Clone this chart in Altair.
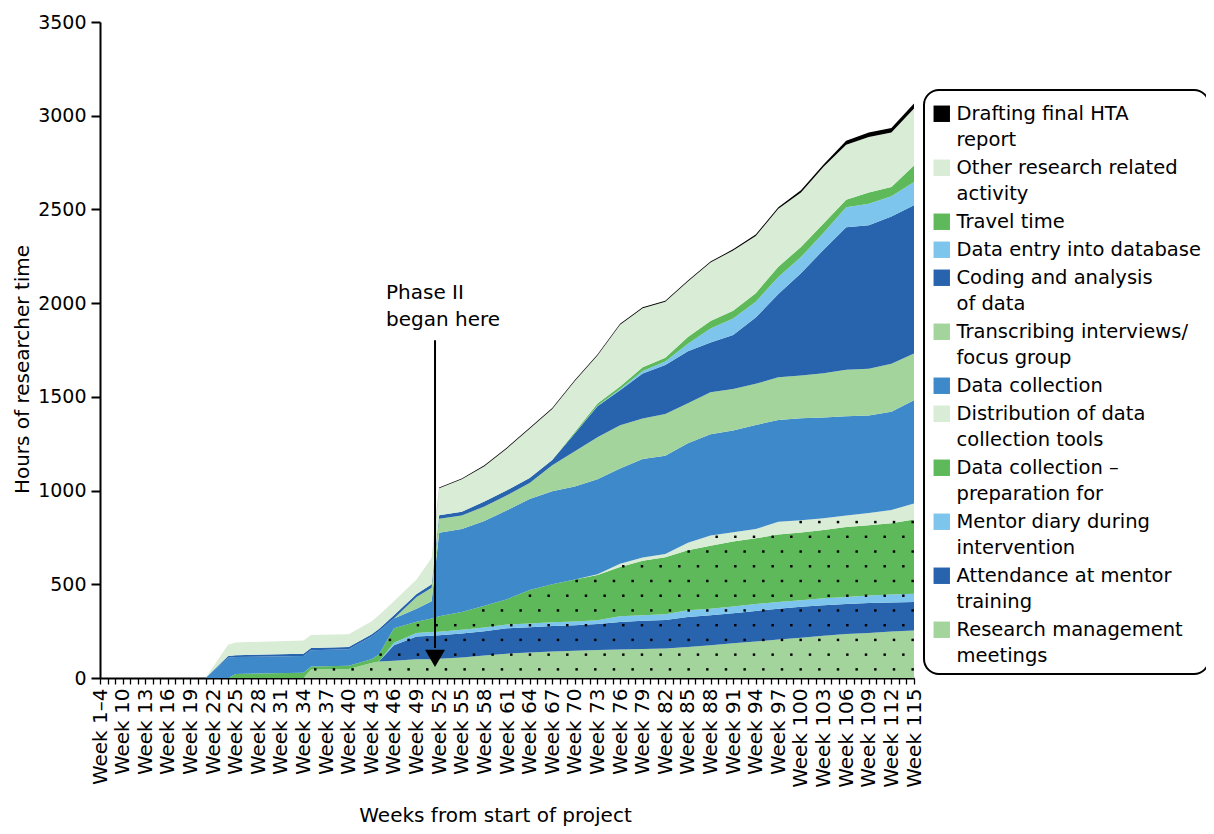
import json
import numpy as np
import pandas as pd
import altair as alt

FONT = "DejaVu Sans"

# x-axis categories (one tick per category, every third labelled)
WEEK_LABELS = ["Week 1–4", "Week 8", "Week 9"] + [f"Week {w}" for w in range(10, 116)]

SAMPLE_WEEKS = ["Week 1–4", "Week 21", "Week 24", "Week 25", "Week 34", "Week 35", "Week 40",
                "Week 43", "Week 44", "Week 46", "Week 49", "Week 51", "Week 52", "Week 55",
                "Week 58", "Week 61", "Week 64", "Week 67", "Week 70", "Week 73", "Week 76",
                "Week 79", "Week 82", "Week 85", "Week 88", "Week 91", "Week 94", "Week 97",
                "Week 100", "Week 103", "Week 106", "Week 109", "Week 112", "Week 115"]

# cumulative hours per activity (bottom of stack first)
RESEARCH_MGMT = [0, 0, 0, 0, 0, 45, 48, 80, 88, 92, 100, 100, 103, 110, 120, 130, 136, 142, 145, 150,
                 152, 155, 158, 165, 175, 185, 195, 205, 215, 225, 235, 240, 248, 254]
MENTOR_TRAINING = [0, 0, 0, 0, 0, 0, 0, 0, 0, 83, 122, 126, 125, 128, 130, 135, 135, 135, 137, 138,
                   147, 150, 152, 161, 160, 160, 163, 165, 165, 163, 160, 160, 155, 152]
MENTOR_DIARY = [0, 0, 0, 0, 0, 0, 0, 0, 0, 13, 18, 19, 19, 19, 19, 20, 20, 20, 20, 20,
                30, 30, 30, 35, 35, 37, 37, 35, 35, 37, 37, 40, 42, 44]
DC_PREP = [0, 0, 0, 22, 28, 17, 17, 20, 37, 77, 60, 73, 83, 95, 116, 135, 179, 203, 223, 242,
           263, 290, 304, 321, 335, 346, 350, 360, 361, 365, 373, 375, 380, 395]
DISTRIBUTION = [0, 0, 0, 0, 0, 0, 0, 0, 0, 0, 0, 0, 0, 0, 0, 0, 0, 0, 0, 4,
                18, 18, 18, 40, 55, 50, 50, 68, 66, 62, 62, 66, 72, 86]
DATA_COLLECTION = [0, 0, 108, 90, 90, 86, 88, 120, 125, 53, 70, 92, 445, 443, 453, 475, 485, 497, 497, 506,
                   508, 525, 524, 530, 540, 542, 555, 543, 544, 538, 529, 520, 524, 551]
TRANSCRIBING = [0, 0, 0, 0, 0, 0, 0, 0, 0, 0, 62, 72, 75, 72, 77, 80, 85, 138, 188, 225,
                231, 217, 223, 214, 225, 222, 220, 228, 228, 236, 249, 249, 256, 249]
CODING = [0, 0, 10, 10, 12, 12, 12, 12, 12, 17, 16, 18, 18, 20, 27, 27, 27, 28, 95, 165,
          186, 240, 261, 278, 265, 288, 353, 445, 546, 659, 760, 766, 785, 791]
DATA_ENTRY = [0, 0, 0, 0, 0, 0, 0, 0, 0, 0, 0, 0, 0, 0, 0, 0, 0, 0, 0, 3,
              5, 13, 18, 40, 75, 88, 85, 90, 86, 90, 107, 114, 108, 124]
TRAVEL = [0, 0, 0, 0, 0, 0, 0, 0, 0, 0, 0, 0, 0, 0, 0, 0, 0, 0, 8, 12,
          15, 20, 20, 35, 40, 42, 45, 55, 54, 50, 40, 60, 50, 88]
OTHER = [0, 0, 60, 68, 70, 70, 68, 70, 73, 75, 77, 140, 144, 173, 188, 223, 263, 272, 272, 256,
         330, 315, 300, 297, 312, 321, 305, 310, 290, 303, 293, 296, 290, 304]
DRAFTING = [0, 0, 0, 0, 0, 0, 0, 0, 0, 0, 0, 0, 5, 5, 5, 5, 5, 5, 5, 5,
            5, 5, 5, 5, 5, 6, 8, 8, 12, 12, 22, 24, 24, 27]

SERIES_NAMES = ["Research management meetings", "Attendance at mentor training",
                "Mentor diary during intervention", "Data collection – preparation for",
                "Distribution of data collection tools", "Data collection",
                "Transcribing interviews/focus group", "Coding and analysis of data",
                "Data entry into database", "Travel time", "Other research related activity",
                "Drafting final HTA report"]
SERIES_VALUES = [RESEARCH_MGMT, MENTOR_TRAINING, MENTOR_DIARY, DC_PREP, DISTRIBUTION, DATA_COLLECTION,
                 TRANSCRIBING, CODING, DATA_ENTRY, TRAVEL, OTHER, DRAFTING]
SERIES_COLORS = ["#a3d49c", "#2864ae", "#7dc5ec", "#5eb95b", "#d9ecd5", "#3d89c9",
                 "#a3d49c", "#2864ae", "#7dc5ec", "#5eb95b", "#d9ecd5", "#000000"]
LEGEND_LINES = {
    "Drafting final HTA report": ["Drafting final HTA", "report"],
    "Other research related activity": ["Other research related", "activity"],
    "Travel time": ["Travel time"],
    "Data entry into database": ["Data entry into database"],
    "Coding and analysis of data": ["Coding and analysis", "of data"],
    "Transcribing interviews/focus group": ["Transcribing interviews/", "focus group"],
    "Data collection": ["Data collection"],
    "Distribution of data collection tools": ["Distribution of data", "collection tools"],
    "Data collection – preparation for": ["Data collection –", "preparation for"],
    "Mentor diary during intervention": ["Mentor diary during", "intervention"],
    "Attendance at mentor training": ["Attendance at mentor", "training"],
    "Research management meetings": ["Research management", "meetings"],
}
ANNOTATION_TEXT = ["Phase II", "began here"]

# ---- build tables ----
xpos = [WEEK_LABELS.index(w) for w in SAMPLE_WEEKS]
rows = []
for k, (name, vals) in enumerate(zip(SERIES_NAMES, SERIES_VALUES)):
    for x, v in zip(xpos, vals):
        rows.append({"x": x, "hours": v, "series": name, "stack": k})
df = pd.DataFrame(rows)

# dotted texture over the five lowest layers (pattern grid, clipped to their top edge)
top5 = np.sum(np.array(SERIES_VALUES[:5], dtype=float), axis=0)
dot_rows = []
for r in range(14):
    h = 46 + 78.6 * r
    off = -1.2385 if r % 2 else 0.0
    for j in range(-30, 20):
        xi = 70.67 + 2.477 * j + off
        if 0 <= xi <= 108 and h <= np.interp(xi, xpos, top5) - 9:
            dot_rows.append({"x": xi, "hours": h})
dots_df = pd.DataFrame(dot_rows)

legend_order = SERIES_NAMES[::-1]
legend_colors = SERIES_COLORS[::-1]

x_label_expr = f"datum.value % 3 == 0 ? {json.dumps(WEEK_LABELS, ensure_ascii=False)}[datum.value] : ''"
legend_label_expr = f"{json.dumps(LEGEND_LINES, ensure_ascii=False)}[datum.label]"

X_TITLE = "Weeks from start of project"
Y_TITLE = "Hours of researcher time"

# legend swatch: a square raised a little so it sits on the first text line
SWATCH_PATH = "M-1,-1.73L1,-1.73L1,0.27L-1,0.27Z"


def xenc():
    return alt.X("x:Q", title=X_TITLE,
                 scale=alt.Scale(domain=[0, 108], nice=False, zero=False),
                 axis=alt.Axis(values=list(range(109)), labelExpr=x_label_expr, labelAngle=270,
                               labelFontSize=20, labelFont=FONT, labelColor="black", labelPadding=4,
                               labelOverlap=False, labelFlush=False, tickSize=6, tickWidth=1.3,
                               tickColor="black", domainColor="black", domainWidth=2, grid=False,
                               titleFontSize=20, titleFont=FONT, titleFontWeight="normal",
                               titleColor="black", titleX=395, titleY=137, titleAlign="center",
                               titleBaseline="middle"))


def yenc(stack=None):
    kw = {}
    if stack:
        kw["stack"] = stack
    return alt.Y("hours:Q", title=Y_TITLE,
                 scale=alt.Scale(domain=[0, 3500], nice=False),
                 axis=alt.Axis(values=list(range(0, 3501, 500)), format="d", labelFontSize=19,
                               labelFont=FONT, labelColor="black", labelPadding=5, tickSize=9,
                               tickWidth=2, tickColor="black", domainColor="black", domainWidth=2,
                               grid=False, titleFontSize=20, titleFont=FONT, titleFontWeight="normal",
                               titleColor="black", titleX=-78, titleY=347, titleAngle=270,
                               titleAlign="center", titleBaseline="middle"),
                 **kw)


areas = alt.Chart(df).mark_area(interpolate="linear").encode(
    x=xenc(),
    y=yenc(stack="zero"),
    color=alt.Color("series:N", title=" ",
                    scale=alt.Scale(domain=legend_order, range=legend_colors),
                    legend=alt.Legend(orient="none", legendX=824, legendY=68, symbolType=SWATCH_PATH,
                                      symbolSize=270, symbolStrokeWidth=0, symbolOpacity=1,
                                      labelFontSize=19.5, labelFont=FONT, labelColor="black",
                                      labelLimit=400, labelExpr=legend_label_expr, padding=8,
                                      rowPadding=7, labelOffset=5, labelBaseline="alphabetic",
                                      titleFontSize=6, titlePadding=6,
                                      strokeColor="black", cornerRadius=15, fillColor="white")),
    order=alt.Order("stack:Q", sort="ascending"),
)

dots = alt.Chart(dots_df).mark_square(size=6, color="black", opacity=1).encode(
    x=xenc(), y=yenc())

arrow_df = pd.DataFrame({"x": [44.45], "hours": [1802], "hours2": [160]})
arrow = alt.Chart(arrow_df).mark_rule(color="black", strokeWidth=2).encode(
    x=xenc(), y=yenc(), y2="hours2:Q")
head_df = pd.DataFrame({"x": [44.45], "hours": [105]})
head = alt.Chart(head_df).mark_point(shape="triangle-down", filled=True, size=400,
                                     color="black", opacity=1).encode(x=xenc(), y=yenc())
ann_df = pd.DataFrame({"x": [37.95], "hours": [2020]})
ann = alt.Chart(ann_df).mark_text(text=ANNOTATION_TEXT, align="left", baseline="alphabetic",
                                  fontSize=20, font=FONT, lineHeight=27, color="black").encode(
    x=xenc(), y=yenc())

chart = alt.layer(areas, dots, arrow, head, ann).properties(
    width=814, height=656,
    autosize=alt.AutoSizeParams(type="none"),
    padding={"left": 92, "top": 14, "right": 292, "bottom": 148},
    background="white",
).configure(style={"guide-label": {"lineHeight": 26.5}}).configure_view(
    stroke=None).configure_legend(strokeWidth=2)

chart.save("out.html", embed_options={"renderer": "svg", "actions": False})
